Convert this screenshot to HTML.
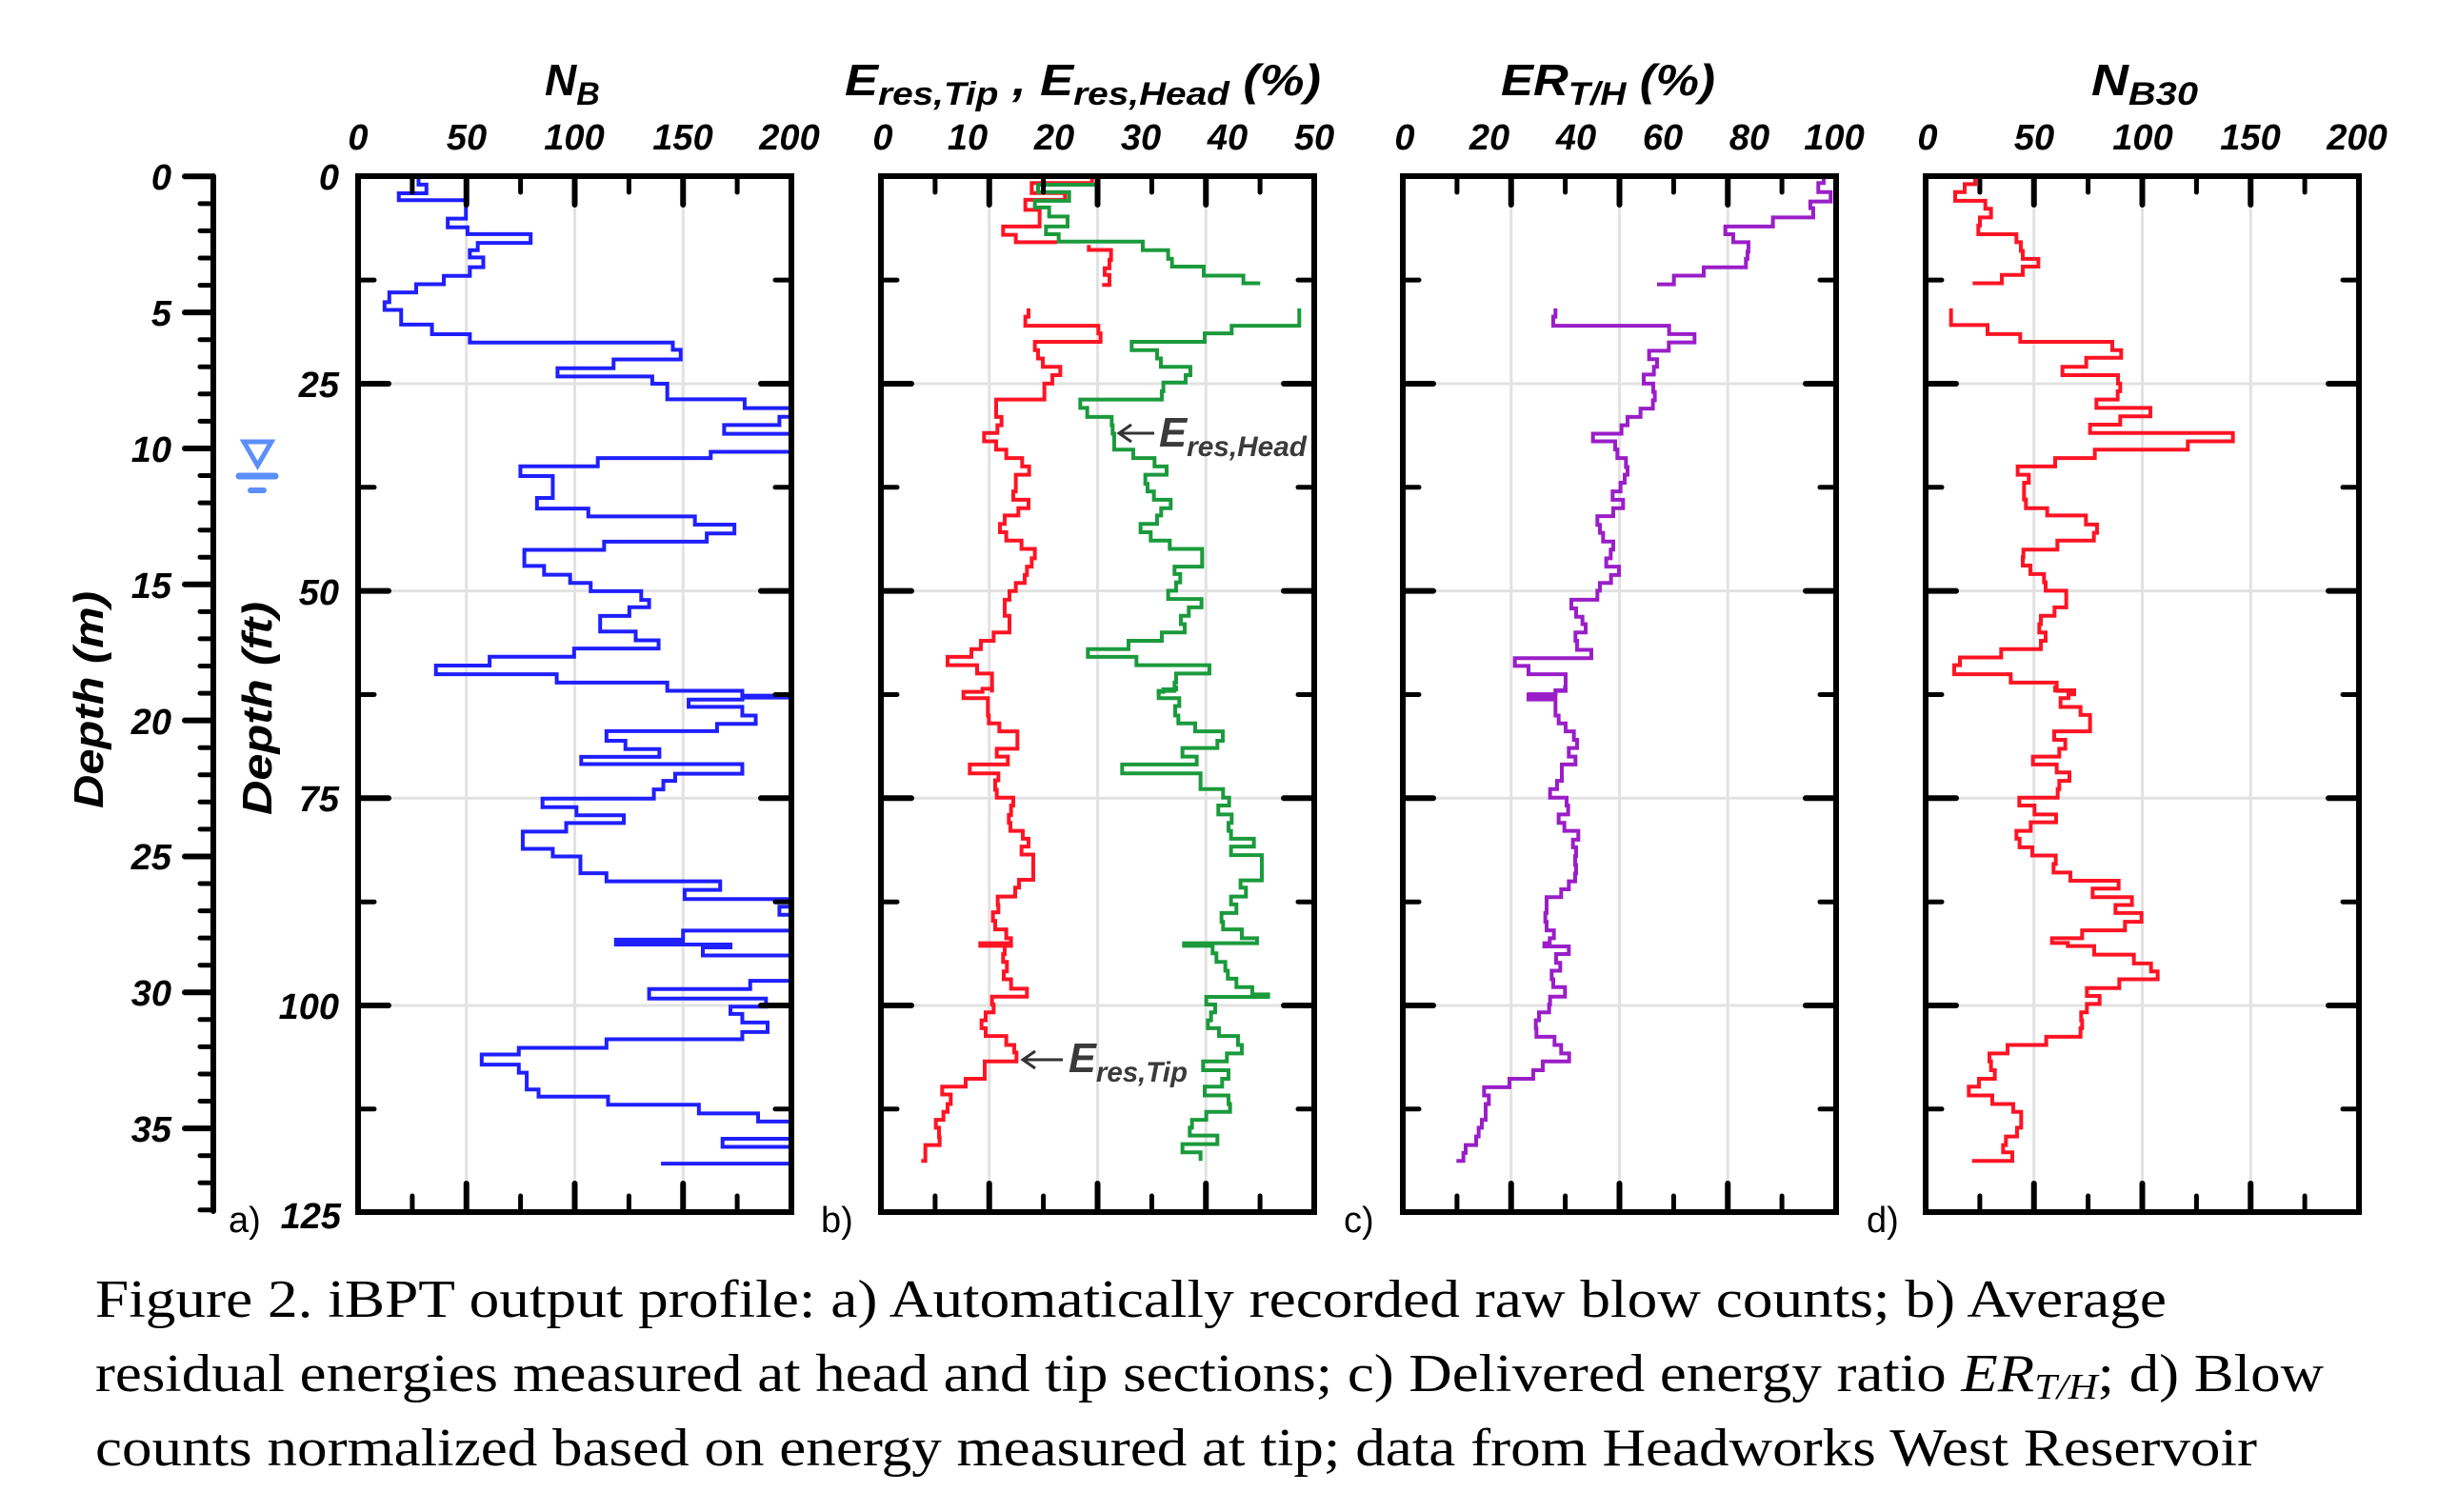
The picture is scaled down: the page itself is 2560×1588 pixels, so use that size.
<!DOCTYPE html>
<html><head><meta charset="utf-8"><style>
html,body{margin:0;padding:0;background:#fff}
svg{display:block}
.t{font-family:"Liberation Sans",sans-serif;font-weight:bold;font-style:italic}
</style></head><body>
<svg width="2560" height="1588" viewBox="0 0 2560 1588" xmlns="http://www.w3.org/2000/svg">
<defs>
<g id="grid" stroke="#e2e2e2" stroke-width="3" fill="none">
<path d="M113.75 185V1273M227.5 185V1273M341.25 185V1273M0 403H455M0 620.6H455M0 838.3H455M0 1056H455"/>
</g>
<g id="frame" fill="none" stroke="#000" stroke-linecap="round">
<rect x="0" y="185" width="455" height="1088" stroke-width="6"/>
<path stroke-width="6" d="M113.75 185v30M227.5 185v30M341.25 185v30M113.75 1273v-30M227.5 1273v-30M341.25 1273v-30M0 403h32M0 620.6h32M0 838.3h32M0 1056h32M455 403h-32M455 620.6h-32M455 838.3h-32M455 1056h-32"/>
<path stroke-width="5" d="M56.9 185v17M170.6 185v17M284.4 185v17M398.1 185v17M56.9 1273v-17M170.6 1273v-17M284.4 1273v-17M398.1 1273v-17M0 294.1h17M0 511.8h17M0 729.5h17M0 947.2h17M0 1164.8h17M455 294.1h-17M455 511.8h-17M455 729.5h-17M455 947.2h-17M455 1164.8h-17"/>
</g>
</defs>

<!-- gridlines -->
<use href="#grid" x="376"/><use href="#grid" x="925"/><use href="#grid" x="1473"/><use href="#grid" x="2022"/>

<!-- Panel a blue -->
<g fill="none" stroke="#1f1fff" stroke-width="4" stroke-linejoin="miter">
<path vector-effect="non-scaling-stroke" transform="scale(0.8292,0.5102)" d="M530 362 V380 H540 V398 H505 V412 H590 V450 H567 V468 H592 V482 H672 V500 H605 V515 H595 V530 H612 V550 H595 V568 H562 V585 H527 V602 H493 V622 H487 V638 H508 V668 H547 V688 H595 V705 H852 V720 H862 V740 H777 V758 H706 V775 H826 V790 H845 V822 H943 V840 H1002 V858 H987 V875 H917 V893 H1002 V930 H900 V943 H757 V960 H659 V980 H700 V1025 H680 V1047 H745 V1063 H880 V1080 H930 V1098 H895 V1115 H765 V1132 H664 V1165 H689 V1183 H722 V1200 H748 V1217 H812 V1235 H822 V1250 H797 V1268 H760 V1300 H805 V1318 H834 V1335 H727 V1352 H620 V1370 H552 V1388 H705 V1405 H845 V1422 H940 V1432 H1002 V1436 H940 V1440 H872 V1455 H940 V1473 H957 V1490 H908 V1505 H768 V1525 H792 V1542 H835 V1558 H736 V1568"/>
<path vector-effect="non-scaling-stroke" transform="translate(0,800) scale(0.8292,0.5025)" d="M736 0 V5 H940 V25 H855 V40 H840 V58 H828 V77 H687 V95 H730 V112 H790 V128 H717 V146 H662 V182 H700 V198 H735 V233 H768 V250 H912 V268 H867 V287 H1002 V303 H987 V320 H1002 V353 H865 V372 H780 V376 H865 V380 H780 V382 H925 V388 H890 V405 H1002 V458 H950 V475 H822 V495 H970 V512 H925 V527 H940 V545 H972 V565 H940 V580 H768 V598 H657 V612 H610 V633 H657 V650 H667 V685 H682 V700 H770 V717 H885 V735 H960 V752 H1002 V788 H915 V805 H1002 V840 H837"/>
</g>

<!-- Panel b -->
<g fill="none" stroke-width="4">
<g stroke="#ff1424">
<path vector-effect="non-scaling-stroke" transform="translate(920,180) scale(0.3333,0.3509)" d="M680 10 V35 H490 V65 H595 V85 H470 V115 H515 V165 H400 V190 H440 V212 H570 M670 220 V235 H740 V265 H735 V290 H720 V310 H735 V340 H712 M480 410 V435 H470 V462 H700 V485 H707 V510 H500 V535 H510 V560 H525 V585 H580 V610 H555 V635 H530 V683 H378 V735 H395 V760 H382 V783 H340 V808 H378 V833 H410 V858 H460 V883 H482 V908 H440 V958 H432 V983 H480 V1008 H448 V1030 H405 V1055 H390 V1080 H410 V1105 H458 V1130 H500 V1158 H490 V1183 H475 V1208 H468 V1232 H440 V1256 H420 V1282 H405 V1330 H420 V1380 H370 V1405 H330 V1430 H300 V1453 H225 V1478 H318 V1503 H365 V1560"/>
<path vector-effect="non-scaling-stroke" transform="translate(920,720) scale(0.3333,0.3317)" d="M365 0 V10 H335 V20 H275 V40 H352 V95 H355 V120 H388 V145 H445 V200 H380 V225 H415 V250 H295 V278 H385 V300 H375 V330 H380 V355 H432 V380 H425 V410 H418 V435 H423 V460 H462 V485 H480 V510 H458 V535 H495 V615 H450 V640 H438 V668 H383 V695 H385 V718 H368 V745 H375 V772 H410 V800 H425 V816 H328 V824 H425 V820 H405 V850 H400 V875 H412 V905 H402 V930 H425 V960 H475 V985 H365 V1010 H370 V1035 H345 V1060 H332 V1085 H345 V1110 H410 V1138 H435 V1162 H442 V1190 H342 V1245 H282 V1270 H208 V1295 H235 V1325 H225 V1350 H212 V1375 H188 V1400 H198 V1430 H200 V1455 H155 V1505 H142"/>
</g>
<g stroke="#1b9a3c">
<path vector-effect="non-scaling-stroke" transform="translate(920,180) scale(0.3333,0.3509)" d="M700 10 V40 H510 V62 H608 V88 H500 V108 H545 V135 H603 V165 H535 V188 H575 V210 H840 V236 H920 V262 H932 V285 H1032 V312 H1157 V335 H1210 M1333 410 V462 H1120 V485 H1035 V510 H805 V535 H885 V560 H897 V585 H990 V610 H975 V632 H905 V658 H900 V683 H643 V708 H665 V735 H742 V760 H745 V785 H750 V833 H810 V858 H877 V883 H915 V908 H848 V935 H855 V958 H875 V983 H928 V1008 H898 V1030 H885 V1055 H833 V1080 H865 V1105 H925 V1130 H1027 V1183 H940 V1205 H958 V1230 H945 V1255 H920 V1280 H1025 V1305 H985 V1330 H960 V1355 H972 V1380 H900 V1405 H795 V1430 H667 V1453 H820 V1478 H1050 V1503 H945 V1530 H940 V1555 H890 V1568"/>
<path vector-effect="non-scaling-stroke" transform="translate(920,720) scale(0.3333,0.3317)" d="M945 0 V12 H905 V20 H890 V40 H955 V65 H942 V95 H952 V120 H1005 V145 H1092 V175 H1075 V198 H965 V225 H1010 V250 H775 V278 H1022 V328 H1093 V355 H1112 V380 H1078 V408 H1120 V435 H1110 V460 H1118 V485 H1190 V510 H1118 V537 H1215 V617 H1148 V640 H1165 V668 H1118 V693 H1135 V720 H1088 V748 H1093 V772 H1152 V800 H1200 V816 H970 V824 H1060 V848 H1072 V875 H1100 V903 H1108 V928 H1135 V955 H1185 V978 H1235 V986 H1040 V1010 H1068 V1035 H1055 V1060 H1045 V1085 H1080 V1110 H1140 V1138 H1152 V1165 H1105 V1190 H1030 V1218 H1110 V1245 H1090 V1270 H1035 V1298 H1110 V1325 H1115 V1350 H1040 V1375 H995 V1400 H988 V1425 H1075 V1452 H965 V1478 H1022 V1505"/>
</g>
</g>

<!-- Panel c purple -->
<g fill="none" stroke="#9a1ec8" stroke-width="4">
<path vector-effect="non-scaling-stroke" transform="translate(1470,180) scale(0.3333,0.3509)" d="M1335 10 V35 H1318 V62 H1357 V90 H1293 V110 H1302 V138 H1175 V165 H1025 V188 H1050 V212 H1098 V240 H1095 V262 H1090 V287 H957 V312 H863 V338 H810 M490 410 V435 H483 V462 H848 V487 H928 V512 H847 V537 H785 V562 H810 V585 H800 V608 H768 V635 H798 V660 H803 V685 H797 V710 H758 V735 H717 V760 H698 V785 H608 V808 H678 V832 H685 V858 H712 V885 H717 V908 H708 V932 H695 V958 H670 V983 H703 V1008 H672 V1032 H622 V1058 H630 V1082 H640 V1108 H672 V1132 H664 V1158 H650 V1183 H690 V1208 H665 V1232 H630 V1255 H622 V1282 H540 V1308 H555 V1333 H575 V1355 H585 V1380 H553 V1405 H558 V1432 H603 V1457 H362 V1480 H405 V1505 H522 V1555 H490 V1565 H405"/>
<path vector-effect="non-scaling-stroke" transform="translate(1470,720) scale(0.3333,0.3317)" d="M520 0 V15 H490 V28 H405 V44 H490 V30 H405 V36 H490 V95 H500 V120 H522 V145 H548 V172 H558 V198 H532 V225 H553 V250 H510 V302 H495 V328 H473 V355 H525 V380 H530 V408 H500 V435 H518 V460 H562 V488 H545 V512 H555 V540 H552 V568 H555 V595 H552 V620 H532 V645 H508 V670 H462 V720 H458 V748 H462 V775 H485 V800 H472 V816 H455 V826 H532 V850 H492 V878 H505 V903 H478 V930 H483 V955 H520 V985 H473 V1010 H470 V1035 H438 V1060 H428 V1085 H430 V1112 H487 V1138 H508 V1165 H533 V1190 H450 V1218 H420 V1245 H345 V1272 H265 V1298 H280 V1325 H270 V1375 H258 V1400 H248 V1428 H240 V1455 H207 V1480 H200 V1505 H178"/>
</g>

<!-- Panel d red -->
<g fill="none" stroke="#ff1424" stroke-width="4">
<path vector-effect="non-scaling-stroke" transform="translate(2018,180) scale(0.3333,0.3509)" d="M168 10 V38 H135 V62 H105 V88 H200 V112 H218 V138 H183 V162 H178 V188 H298 V212 H312 V238 H318 V262 H367 V285 H318 V310 H252 V335 H160 M92 410 V460 H207 V487 H310 V510 H600 V535 H628 V558 H518 V585 H443 V610 H618 V635 H625 V658 H617 V683 H550 V708 H720 V733 H625 V758 H530 V783 H980 V808 H838 V833 H545 V858 H420 V883 H302 V908 H337 V932 H322 V982 H328 V1008 H395 V1030 H517 V1057 H552 V1082 H542 V1105 H427 V1132 H320 V1155 H318 V1180 H342 V1205 H385 V1230 H390 V1255 H455 V1305 H418 V1330 H375 V1355 H370 V1380 H390 V1405 H375 V1430 H250 V1455 H120 V1478 H102 V1505 H280 V1530 H425 V1555 H480 V1568"/>
<path vector-effect="non-scaling-stroke" transform="translate(2018,720) scale(0.3333,0.3317)" d="M420 0 V15 H480 V28 H462 V40 H437 V68 H500 V93 H530 V145 H417 V172 H452 V200 H433 V225 H350 V250 H425 V275 H465 V302 H433 V328 H428 V355 H307 V380 H355 V408 H423 V433 H343 V460 H298 V485 H308 V512 H348 V538 H422 V565 H415 V592 H468 V618 H620 V643 H538 V670 H662 V695 H610 V720 H692 V748 H640 V775 H505 V800 H410 V815 H460 V825 H543 V852 H668 V880 H722 V905 H743 V930 H622 V958 H520 V983 H560 V1008 H520 V1035 H502 V1060 H505 V1085 H500 V1112 H392 V1138 H270 V1165 H213 V1190 H218 V1218 H230 V1245 H180 V1270 H148 V1298 H222 V1325 H288 V1350 H313 V1400 H300 V1428 H265 V1455 H256 V1478 H285 V1505 H158"/>
</g>

<!-- frames -->
<use href="#frame" x="376"/><use href="#frame" x="925"/><use href="#frame" x="1473"/><use href="#frame" x="2022"/>

<!-- m axis -->
<g stroke="#000" fill="none" stroke-linecap="round">
<path stroke-width="6" d="M224 185V1272M194 185.3H224M194 328.1H224M194 471H224M194 613.8H224M194 756.6H224M194 899.5H224M194 1042.3H224M194 1185.1H224"/>
<path stroke-width="5" d="M210 213.9H224M210 242.4H224M210 271H224M210 299.6H224M210 356.7H224M210 385.3H224M210 413.8H224M210 442.4H224M210 499.5H224M210 528.1H224M210 556.7H224M210 585.2H224M210 642.4H224M210 670.9H224M210 699.5H224M210 728.1H224M210 785.2H224M210 813.8H224M210 842.3H224M210 870.9H224M210 928H224M210 956.6H224M210 985.1H224M210 1013.7H224M210 1070.8H224M210 1099.4H224M210 1128H224M210 1156.5H224M210 1213.7H224M210 1242.2H224M210 1270.8H224"/>
</g>

<!-- water table -->
<g fill="none" stroke="#5b8ff9" stroke-linecap="round">
<path stroke-width="5" d="M256 464H285L270.5 489Z"/>
<path stroke-width="7" d="M251 500H289"/>
<path stroke-width="6" d="M263 515H277"/>
</g>

<!-- tick labels -->
<g class="t" font-size="38" fill="#000">
<g text-anchor="end">
<text x="180" y="199">0</text><text x="180" y="342">5</text><text x="180" y="485">10</text><text x="180" y="628">15</text><text x="180" y="771">20</text><text x="180" y="913">25</text><text x="180" y="1056">30</text><text x="180" y="1199">35</text>
<text x="356" y="199">0</text><text x="356" y="417">25</text><text x="356" y="635">50</text><text x="356" y="852">75</text><text x="356" y="1070">100</text><text x="358" y="1290">125</text>
</g>
<g text-anchor="middle">
<text x="376" y="157">0</text><text x="490" y="157">50</text><text x="603" y="157">100</text><text x="717" y="157">150</text><text x="829" y="157">200</text>
<text x="927" y="157">0</text><text x="1016" y="157">10</text><text x="1107" y="157">20</text><text x="1198" y="157">30</text><text x="1289" y="157">40</text><text x="1380" y="157">50</text>
<text x="1475" y="157">0</text><text x="1564" y="157">20</text><text x="1655" y="157">40</text><text x="1746" y="157">60</text><text x="1837" y="157">80</text><text x="1926" y="157">100</text>
<text x="2024" y="157">0</text><text x="2136" y="157">50</text><text x="2250" y="157">100</text><text x="2363" y="157">150</text><text x="2475" y="157">200</text>
</g>
</g>

<!-- panel letters -->
<g font-family="Liberation Sans, sans-serif" font-size="38" fill="#000">
<text x="240" y="1294">a)</text><text x="862" y="1294">b)</text><text x="1411" y="1294">c)</text><text x="1960" y="1294">d)</text>
</g>

<!-- titles -->
<g class="t" fill="#000">
<text x="572" y="100" font-size="46">N<tspan font-size="34" dy="10">B</tspan></text>
<text x="887" y="100" font-size="46" textLength="500" lengthAdjust="spacingAndGlyphs">E<tspan font-size="34" dy="10">res,Tip</tspan><tspan dy="-10"> , E</tspan><tspan font-size="34" dy="10">res,Head</tspan><tspan dy="-10"> (%)</tspan></text>
<text x="1576" y="100" font-size="46" textLength="225" lengthAdjust="spacingAndGlyphs">ER<tspan font-size="34" dy="10">T/H</tspan><tspan dy="-10"> (%)</tspan></text>
<text x="2196" y="100" font-size="46" textLength="112" lengthAdjust="spacingAndGlyphs">N<tspan font-size="34" dy="10">B30</tspan></text>
<text transform="translate(108,735) rotate(-90)" text-anchor="middle" font-size="44" textLength="228" lengthAdjust="spacingAndGlyphs">Depth (m)</text>
<text transform="translate(285,744) rotate(-90)" text-anchor="middle" font-size="44" textLength="224" lengthAdjust="spacingAndGlyphs">Depth (ft)</text>
</g>

<!-- annotations -->
<g stroke="#333" stroke-width="3" fill="none">
<path d="M1212 455H1176M1188 446L1175 455L1188 464"/>
<path d="M1116 1113H1074M1087 1104L1074 1113L1087 1122"/>
</g>
<g class="t" fill="#3a3a3a">
<text x="1217" y="469" font-size="44" textLength="155" lengthAdjust="spacingAndGlyphs">E<tspan font-size="30" dy="10">res,Head</tspan></text>
<text x="1122" y="1126" font-size="44" textLength="125" lengthAdjust="spacingAndGlyphs">E<tspan font-size="30" dy="10">res,Tip</tspan></text>
</g>

<!-- caption -->
<g font-family="Liberation Serif, serif" font-size="56" fill="#000">
<text x="100" y="1383" textLength="2175" lengthAdjust="spacingAndGlyphs">Figure 2. iBPT output profile: a) Automatically recorded raw blow counts; b) Average</text>
<text x="100" y="1461" textLength="2340" lengthAdjust="spacingAndGlyphs">residual energies measured at head and tip sections; c) Delivered energy ratio <tspan font-style="italic">ER</tspan><tspan font-style="italic" font-size="38" dy="8">T/H</tspan><tspan dy="-8">; d) Blow</tspan></text>
<text x="100" y="1539" textLength="2270" lengthAdjust="spacingAndGlyphs">counts normalized based on energy measured at tip; data from Headworks West Reservoir</text>
</g>
</svg>
</body></html>
